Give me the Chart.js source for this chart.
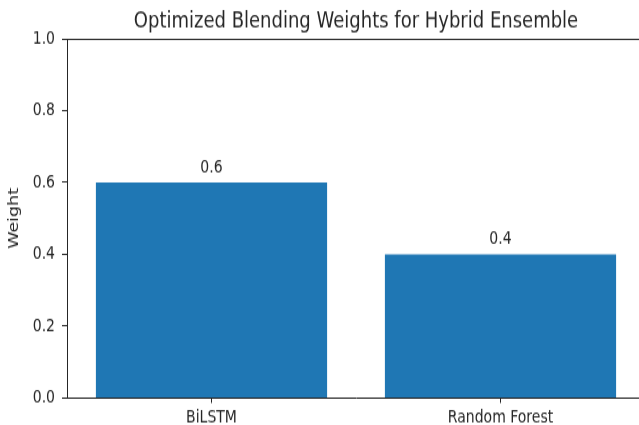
<!doctype html>
<html>
<head>
	<title>Optimized Blending Weights</title>
	<script src="https://cdn.jsdelivr.net/npm/chart.js@4/dist/chart.umd.min.js"></script>
	<style>
		html, body { margin: 0; padding: 0; background: #fff; overflow: hidden; width: 639px; height: 425px; }
		#wrap { width: 639px; height: 425px; overflow: hidden; position: relative; }
		/* the reference is a screenshot stretched vertically, so stretch ours too */
		#chart { position: absolute; left: 0; top: 0; transform: scaleY(1.25); transform-origin: 0 0; }
	</style>
</head>
<body>
	<div id="wrap"><canvas id="chart" width="650" height="340"></canvas></div>
	<script>
		var models = ['BiLSTM', 'Random Forest'];
		var weights = [0.6, 0.4];
		var yTicks = [0, 0.2, 0.4, 0.6, 0.8, 1.0];

		var FONT = 'DejaVu Sans, sans-serif';
		var INK = '#262626';

		// frame, title and bar value labels, matplotlib style
		var decorations = {
			id: 'decorations',
			afterDraw: function(chart) {
				var ctx = chart.ctx;
				var a = chart.chartArea;
				ctx.save();
				ctx.strokeStyle = INK;
				ctx.lineWidth = 1;
				ctx.beginPath();
				ctx.moveTo(a.left, a.top + 0.5);
				ctx.lineTo(a.right, a.top + 0.5);
				ctx.moveTo(a.right - 0.5, a.top);
				ctx.lineTo(a.right - 0.5, a.bottom);
				ctx.stroke();

				ctx.fillStyle = INK;
				ctx.font = '18px ' + FONT;
				ctx.textAlign = 'center';
				ctx.textBaseline = 'middle';
				ctx.fillText('Optimized Blending Weights for Hybrid Ensemble', (a.left + a.right) / 2, 17);

				ctx.font = '14px ' + FONT;
				ctx.textBaseline = 'alphabetic';
				chart.getDatasetMeta(0).data.forEach(function(bar, i) {
					ctx.fillText(String(weights[i]), bar.x, bar.y - 8);
				});
				ctx.restore();
			}
		};

		window.onload = function() {
			new Chart(document.getElementById('chart'), {
				type: 'bar',
				data: {
					labels: models,
					datasets: [{
						data: weights,
						backgroundColor: '#1f77b4',
						borderWidth: 0,
						categoryPercentage: 1.0,
						barPercentage: 0.8
					}]
				},
				plugins: [decorations],
				options: {
					responsive: false,
					animation: false,
					layout: { padding: { top: 31, right: 5, left: 0, bottom: 0 } },
					plugins: {
						legend: { display: false },
						tooltip: { enabled: false },
						title: { display: false }
					},
					scales: {
						x: {
							offset: true,
							grid: { offset: false, drawOnChartArea: false, drawTicks: true, tickLength: 4, color: INK },
							border: { display: true, color: INK },
							ticks: { color: INK, font: { family: FONT, size: 14 }, padding: 4, maxRotation: 0 },
							afterFit: function(scale) { scale.height = 21.6; }
						},
						y: {
							min: 0,
							max: 1,
							afterBuildTicks: function(scale) {
								scale.ticks = yTicks.map(function(v) { return { value: v }; });
							},
							grid: { drawOnChartArea: false, drawTicks: true, tickLength: 5, color: INK },
							border: { display: true, color: INK },
							ticks: {
								color: INK,
								font: { family: FONT, size: 14 },
								padding: 7,
								callback: function(v) { return Number(v).toFixed(1); }
							},
							title: {
								display: true,
								text: 'Weight',
								color: INK,
								font: { family: FONT, size: 14 },
								padding: { top: 6, bottom: 0 }
							},
							afterFit: function(scale) { scale.width = 67; }
						}
					}
				}
			});
		};
	</script>
</body>
</html>
